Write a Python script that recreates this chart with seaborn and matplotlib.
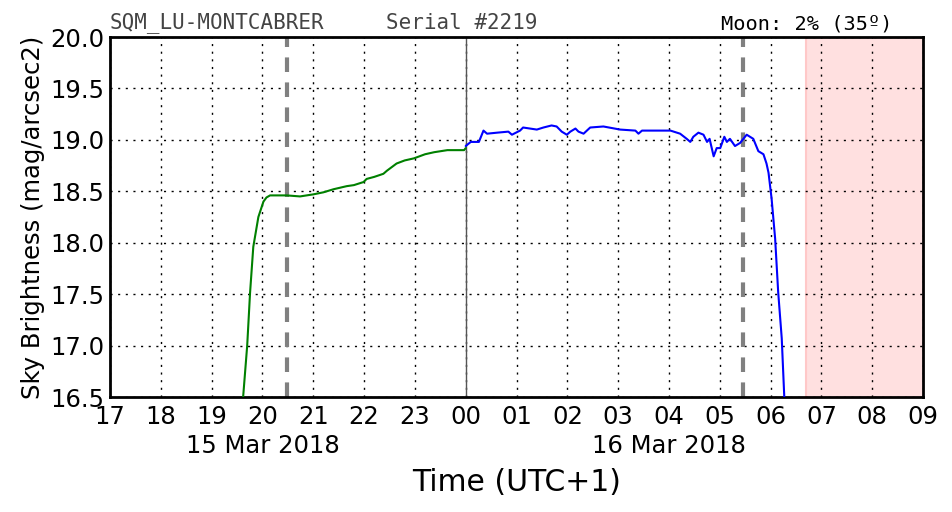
import matplotlib
matplotlib.use("Agg")
import matplotlib.pyplot as plt
import seaborn as sns
import pandas as pd

# Data (hours since 00:00 of 15 Mar 2018, UTC+1)
evening_hours = [19.62, 19.70, 19.756, 19.82, 19.92, 20.02, 20.08, 20.15, 20.48, 20.74, 21.0, 21.2,
                 21.40, 21.66, 21.8, 21.99, 22.05, 22.2, 22.38, 22.45, 22.64, 22.8, 22.98, 23.2,
                 23.38, 23.64, 23.97, 24.0]
evening_mag = [16.5, 17.0, 17.51, 17.96, 18.25, 18.40, 18.44, 18.46, 18.46, 18.45, 18.47, 18.49,
               18.52, 18.55, 18.56, 18.59, 18.62, 18.64, 18.67, 18.70, 18.77, 18.80, 18.82, 18.86,
               18.88, 18.90, 18.90, 18.92]

night_hours = [24.0, 24.1, 24.26, 24.35, 24.42, 24.62, 24.84, 24.91, 25.07, 25.13, 25.4, 25.53,
               25.69, 25.79, 25.89, 25.99, 26.06, 26.16, 26.22, 26.32, 26.45, 26.71, 27.04, 27.34,
               27.40, 27.47, 27.83, 28.03, 28.22, 28.35, 28.42, 28.48, 28.58, 28.68, 28.75, 28.80,
               28.88, 28.94, 29.01, 29.09, 29.14, 29.20, 29.30, 29.40, 29.53, 29.66, 29.76, 29.86,
               29.92, 29.96, 30.02, 30.09, 30.15, 30.22, 30.27]
night_mag = [18.94, 18.98, 18.98, 19.09, 19.06, 19.07, 19.08, 19.05, 19.09, 19.12, 19.10, 19.12,
             19.14, 19.13, 19.08, 19.05, 19.08, 19.11, 19.08, 19.06, 19.12, 19.13, 19.10, 19.09,
             19.06, 19.09, 19.09, 19.09, 19.06, 19.01, 18.98, 19.03, 19.07, 19.05, 18.98, 19.01,
             18.84, 18.92, 18.92, 19.03, 18.98, 19.01, 18.94, 18.97, 19.05, 19.01, 18.89, 18.86,
             18.77, 18.68, 18.43, 18.04, 17.52, 17.07, 16.5]

twilight_lines = [20.48, 29.46]
midnight = 24.0
daylight_span = [30.7, 33.0]
tick_hours = list(range(17, 34))
tick_labels = ["17", "18", "19", "20", "21", "22", "23", "00", "01", "02", "03", "04",
               "05", "06", "07", "08", "09"]
y_ticks = [16.5, 17.0, 17.5, 18.0, 18.5, 19.0, 19.5, 20.0]
date_labels = ["15 Mar 2018", "16 Mar 2018"]
date_positions = [20.0, 28.0]

sns.set_style("white")
plt.rcParams["font.family"] = ["DejaVu Sans"]
plt.rcParams["text.color"] = "black"
plt.rcParams["axes.labelcolor"] = "black"
plt.rcParams["xtick.color"] = "black"
plt.rcParams["ytick.color"] = "black"

fig = plt.figure(figsize=(9.52, 5.12), dpi=100)
ax = fig.add_axes([110 / 952, 115 / 512, 813 / 952, 360 / 512])

ev = pd.DataFrame({"t": evening_hours, "m": evening_mag})
nt = pd.DataFrame({"t": night_hours, "m": night_mag})

ax.axvspan(daylight_span[0], daylight_span[1], color="#ffe0e0", zorder=0)
ax.axvline(daylight_span[0], color="#ffc8c8", lw=1.5, zorder=0)
ax.axvline(midnight, color="#555555", lw=1, zorder=1)
for x in twilight_lines:
    ax.axvline(x, color="gray", lw=3, ls=(0, (3.5, 2.5)), zorder=1)

sns.lineplot(data=ev, x="t", y="m", color="green", lw=1.5, ax=ax, zorder=3)
sns.lineplot(data=nt, x="t", y="m", color="blue", lw=1.5, ax=ax, zorder=3)

ax.set_xlim(17, 33)
ax.set_ylim(16.5, 20.0)
ax.set_xticks(tick_hours)
ax.set_xticklabels(tick_labels, fontsize=17.5)
ax.set_yticks(y_ticks)
ax.set_yticklabels([f"{v:.1f}" for v in y_ticks], fontsize=17.5)
ax.tick_params(axis="x", length=0, pad=6)
ax.tick_params(axis="y", length=0, pad=4)
ax.grid(True, color="black", ls=(0, (1.5, 4)), lw=1)
for s in ax.spines.values():
    s.set_visible(True)
    s.set_color("black")
    s.set_linewidth(2)

ax.set_xlabel("Time (UTC+1)", fontsize=21.5, labelpad=28)
ax.set_ylabel("Sky Brightness (mag/arcsec2)", fontsize=17.5, labelpad=4)

for lbl, pos in zip(date_labels, date_positions):
    ax.text(pos, -0.135, lbl, transform=ax.get_xaxis_transform(), ha="center", va="center",
            fontsize=17.5)

ax.text(0.0, 1.01, "SQM_LU-MONTCABRER", transform=ax.transAxes, ha="left", va="bottom",
        fontsize=15, family="DejaVu Sans Mono", color="#444444")
ax.text(0.34, 1.01, "Serial #2219", transform=ax.transAxes, ha="left", va="bottom",
        fontsize=15, family="DejaVu Sans Mono", color="#444444")
ax.text(0.857, 1.01, "Moon: 2% (35º)", transform=ax.transAxes, ha="center", va="bottom",
        fontsize=14.6, family="DejaVu Sans Mono", color="black")

fig.savefig("out.png", dpi=100)
